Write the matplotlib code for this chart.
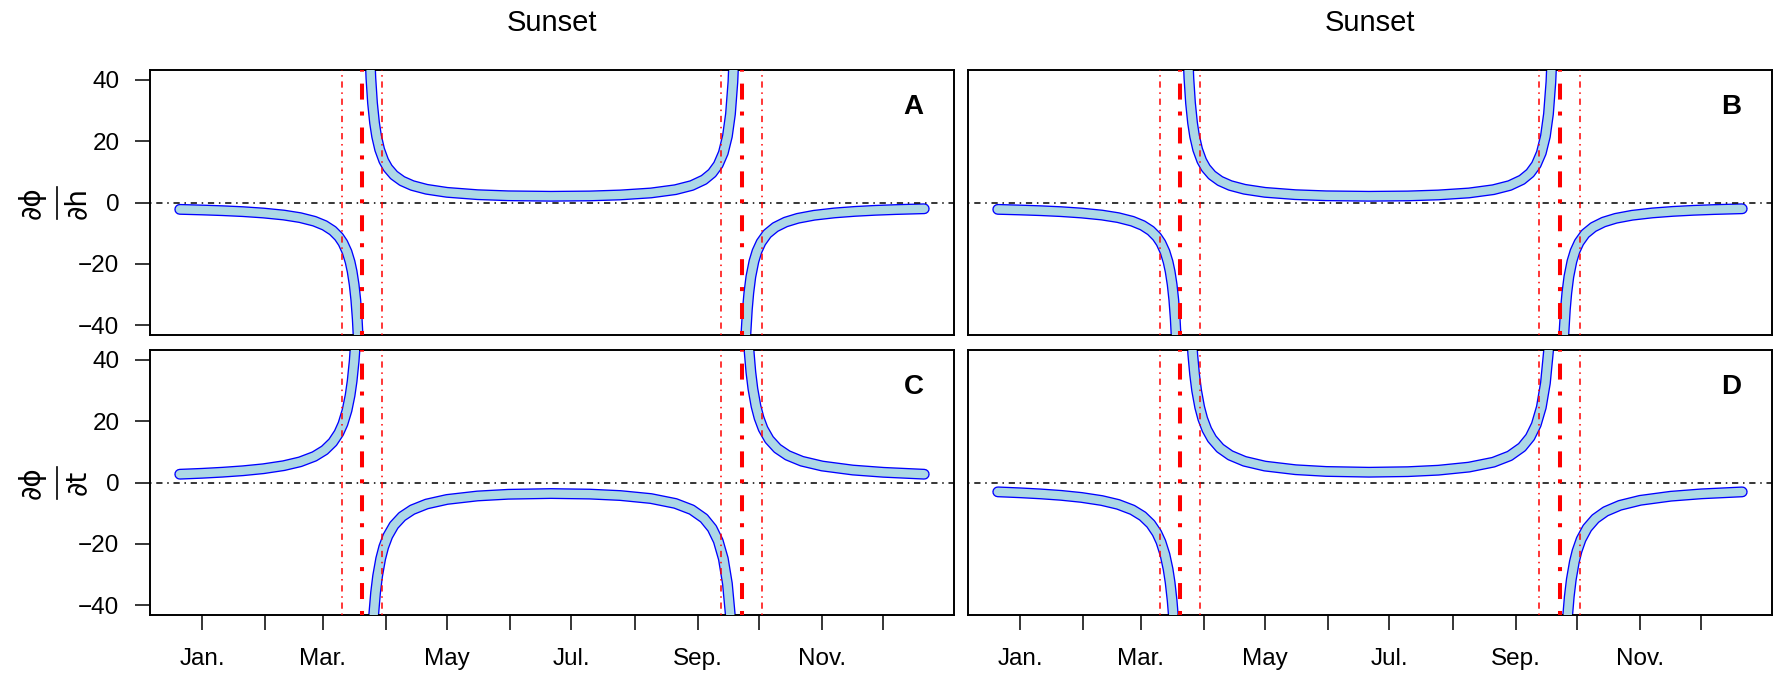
import matplotlib
matplotlib.use("Agg")
import matplotlib.pyplot as plt
from matplotlib.lines import Line2D

plt.rcParams["font.family"] = ["Liberation Sans", "DejaVu Sans"]
plt.rcParams["lines.scale_dashes"] = False

# ---- data: day of year (0 = 1 Jan), one year from the December solstice ----
# Panel A: d(phi)/dh, three branches split by the two singularities
a1_day = [-11, 0, 10, 20, 30, 40, 48, 55, 60, 64, 67, 69, 71, 72.5, 73.5, 74.5, 75.3, 76, 76.6, 77]
a1_val = [-2.24, -2.44, -2.67, -2.98, -3.43, -4.09, -4.93, -6.11, -7.47, -9.19, -11.2, -13.18,
          -16.09, -19.37, -22.47, -26.8, -31.75, -37.94, -45.63, -52.8]
a2_day = [82, 82.7, 83.5, 84.5, 85.5, 87, 89, 91, 94, 98, 103, 110, 120, 135, 150, 171, 190, 205,
          220, 232, 240, 246, 250, 253, 255.5, 257.5, 259, 260.2, 261]
a2_val = [51.9, 40.55, 32.42, 25.93, 21.6, 17.27, 13.63, 11.25, 8.93, 7.01, 5.54, 4.31, 3.31, 2.55,
          2.19, 2.03, 2.14, 2.46, 3.11, 4.18, 5.54, 7.41, 9.59, 12.33, 16.19, 21.6, 28.81, 39.31, 51.9]
a3_day = [266, 266.6, 267.3, 268, 269, 270.5, 272, 274, 277, 281, 286, 292, 300, 310, 320, 330, 340, 354]
a3_val = [-52.6, -42.5, -34.8, -29.5, -24.2, -19.2, -15.9, -13.0, -10.2, -8.03, -6.38, -5.16, -4.16,
          -3.40, -2.90, -2.55, -2.30, -2.04]

# Panel B: d(phi)/dh, second case
b1_day = list(a1_day)
b1_val = list(a1_val)
b2_day = list(a2_day)
b2_val = list(a2_val)
b3_day = list(a3_day)
b3_val = list(a3_val)

# Panel C: d(phi)/dt
c1_day = [-11, 0, 10, 20, 30, 40, 48, 55, 60, 64, 67, 69, 71, 72.5, 73.5, 74.5, 75.3, 76]
c1_val = [2.70, 3.00, 3.36, 3.83, 4.49, 5.49, 6.74, 8.51, 10.55, 13.13, 16.15, 19.12, 23.49, 28.41,
          33.05, 39.55, 46.98, 56.3]
c2_day = [83.4, 84, 85, 86, 87.5, 89, 91, 94, 98, 103, 110, 120, 135, 150, 171, 190, 205, 220, 232,
          240, 246, 250, 253, 255.5, 257.5, 259, 259.6]
c2_val = [-50.44, -43.78, -35.9, -30.46, -24.84, -21.0, -17.45, -13.96, -11.08, -8.88, -7.02, -5.53,
          -4.39, -3.84, -3.60, -3.78, -4.25, -5.23, -6.83, -8.87, -11.67, -14.95, -19.06, -24.85,
          -32.96, -43.78, -50.45]
c3_day = [267.4, 268, 269, 270, 271.5, 273, 275, 278, 282, 287, 294, 304, 319, 334, 354]
c3_val = [50.55, 43.88, 36.0, 30.55, 24.93, 21.08, 17.51, 14.0, 11.09, 8.85, 6.94, 5.37, 4.06, 3.32, 2.70]

# Panel D: d(phi)/dt, second case
d1_day = [-11, 0, 10, 20, 30, 40, 48, 55, 60, 64, 67, 69, 71, 72.5, 73.5, 74.5, 75.2, 76]
d1_val = [-3.05, -3.36, -3.72, -4.19, -4.87, -5.88, -7.14, -8.91, -10.95, -13.51, -16.48, -19.37,
          -23.58, -28.25, -32.6, -38.59, -44.33, -53.5]
d2_day = [84, 84.6, 85.5, 86.5, 88, 89.5, 91.5, 94, 98, 103, 110, 120, 135, 150, 171, 190, 205, 220,
          232, 240, 246, 250, 253, 255.5, 257.5, 259, 259.7]
d2_val = [47.73, 41.79, 35.21, 29.98, 24.53, 20.77, 17.25, 14.26, 11.19, 8.86, 6.91, 5.35, 4.17, 3.60,
          3.35, 3.53, 4.01, 5.02, 6.62, 8.69, 11.51, 14.78, 18.85, 24.53, 32.39, 42.67, 50.1]
d3_day = [267.7, 268.3, 269.2, 270.2, 271.7, 273, 275, 278, 282, 287, 294, 304, 319, 334, 354]
d3_val = [-50.85, -44.33, -37.21, -31.62, -25.85, -22.36, -18.55, -14.84, -11.78, -9.43, -7.45,
          -5.81, -4.47, -3.70, -3.06]

# equinoxes and the +/- 10 day window around them
equinox_days = [78.3, 264.5]
window_days = [68.3, 88.3, 254.5, 274.5]

month_ticks = [0, 31, 59, 90, 120, 151, 181, 212, 243, 273, 304, 334]
month_labels = ["Jan.", "", "Mar.", "", "May", "", "Jul.", "", "Sep.", "", "Nov.", ""]
y_ticks = [-40, -20, 0, 20, 40]
panel_letters = ["A", "B", "C", "D"]
column_titles = ["Sunset", "Sunset"]
row_numerators = ["\u2202\u03d5", "\u2202\u03d5"]
row_denominators = ["\u2202h", "\u2202t"]

panels = [
    [(a1_day, a1_val), (a2_day, a2_val), (a3_day, a3_val)],
    [(b1_day, b1_val), (b2_day, b2_val), (b3_day, b3_val)],
    [(c1_day, c1_val), (c2_day, c2_val), (c3_day, c3_val)],
    [(d1_day, d1_val), (d2_day, d2_val), (d3_day, d3_val)],
]

W, H = 1774, 680
fig = plt.figure(figsize=(W / 100, H / 100), dpi=100)

# panel boxes in pixels: left, top, right, bottom
boxes = [(150, 70, 954, 335), (968, 70, 1772, 335),
         (150, 350, 954, 615), (968, 350, 1772, 615)]

x_lo, x_hi = -11 - 0.04 * 365, 354 + 0.04 * 365
y_lim = 43.2

axes = []
for i, (l, t, r, b) in enumerate(boxes):
    ax = fig.add_axes([l / W, 1 - b / H, (r - l) / W, (b - t) / H])
    axes.append(ax)
    ax.set_xlim(x_lo, x_hi)
    ax.set_ylim(-y_lim, y_lim)
    for s in ax.spines.values():
        s.set_linewidth(1.4)

    for xs, ys in panels[i]:
        ax.plot(xs, ys, color="#0000FF", lw=7.9, solid_capstyle="round",
                solid_joinstyle="round", zorder=2)
        ax.plot(xs, ys, color="#ADD8E6", lw=6.0, solid_capstyle="round",
                solid_joinstyle="round", zorder=3)

    ax.axhline(0, color="black", lw=1.1, dashes=(1.1, 3.4, 4.5, 3.4), zorder=4)
    for d in window_days:
        ax.axvline(d, color="#FF0000", lw=1.1, dashes=(1.1, 3.4, 4.5, 3.4), zorder=4)
    for d in equinox_days:
        ax.axvline(d, color="#FF0000", lw=2.9, dashes=(2.9, 8.6, 11.5, 8.6), zorder=5)

    ax.text(0.9496, 0.86, panel_letters[i], transform=ax.transAxes, ha="center", va="center",
            fontsize=20, fontweight="bold")

    if i in (0, 2):
        ax.set_yticks(y_ticks)
        ax.set_yticklabels([f"{v}".replace("-", "\u2212") for v in y_ticks])
        ax.tick_params(axis="y", direction="out", length=11, width=1.1, pad=11, labelsize=17.5)
    else:
        ax.set_yticks([])
    if i in (2, 3):
        ax.set_xticks(month_ticks)
        ax.set_xticklabels(month_labels)
        ax.tick_params(axis="x", direction="out", length=10.8, width=1.1, pad=13, labelsize=17.5)
    else:
        ax.set_xticks([])

for k, (l, t, r, b) in enumerate(boxes[:2]):
    fig.text((l + r) / 2 / W, 1 - 23 / H, column_titles[k], ha="center", va="center", fontsize=21)

# row labels: partial derivative written as a rotated fraction
for k, yc in enumerate([202.5, 482.5]):
    fig.text(32 / W, 1 - yc / H, row_numerators[k], rotation=90, ha="center", va="center",
             fontsize=20, family="DejaVu Sans")
    fig.text(77 / W, 1 - yc / H, row_denominators[k], rotation=90, ha="center", va="center",
             fontsize=20, family="DejaVu Sans")
    fig.add_artist(Line2D([57 / W, 57 / W], [1 - (yc - 16) / H, 1 - (yc + 16) / H],
                          color="black", lw=1.2, transform=fig.transFigure))

fig.savefig("out.png", dpi=100)
